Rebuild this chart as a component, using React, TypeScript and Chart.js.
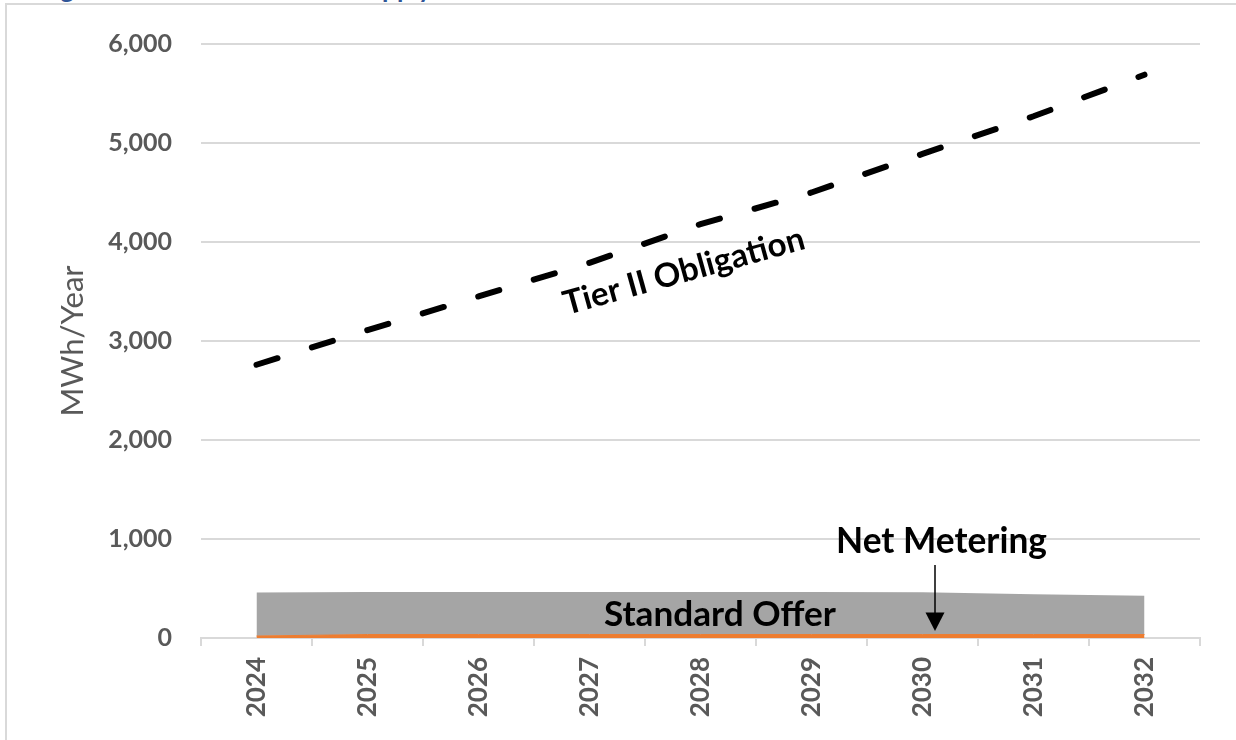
import React, { useEffect, useRef } from "react";
import { Chart, registerables } from "chart.js";

Chart.register(...registerables);

const years = ["2024", "2025", "2026", "2027", "2028", "2029", "2030", "2031", "2032"];
const tierIIObligation = [2760, 3110, 3450, 3790, 4180, 4500, 4890, 5270, 5690];
const netMetering = [20, 35, 35, 35, 35, 35, 35, 35, 35];
const standardOffer = [440, 430, 430, 430, 430, 430, 428, 408, 392];
const yTicks = [0, 1000, 2000, 3000, 4000, 5000, 6000];
const yTitle = "MWh/Year";
const captionText = "Figure 6: Tier II Demand vs Supply";

const FONT = "Lato, 'Open Sans', sans-serif";
const GRID = "#d9d9d9";
const AXIS_TEXT = "#595959";

function fitFont(ctx: CanvasRenderingContext2D, text: string, width: number, weight: string) {
  ctx.font = `${weight} 30px ${FONT}`;
  const w = ctx.measureText(text).width;
  const size = (30 * width) / w;
  ctx.font = `${weight} ${size.toFixed(2)}px ${FONT}`;
}

const annotationPlugin = {
  id: "annotations",
  afterDatasetsDraw(chart: any) {
    const ctx: CanvasRenderingContext2D = chart.ctx;
    ctx.save();
    ctx.fillStyle = "#000";
    ctx.strokeStyle = "#000";

    // Tier II Obligation label
    ctx.save();
    ctx.translate(686.7, 281.7);
    ctx.rotate((-15.5 * Math.PI) / 180);
    fitFont(ctx, "Tier II Obligation", 249, "bold");
    ctx.textAlign = "center";
    ctx.textBaseline = "alphabetic";
    ctx.fillText("Tier II Obligation", 0, 0);
    ctx.restore();

    // Standard Offer
    fitFont(ctx, "Standard Offer", 232, "bold");
    ctx.textAlign = "left";
    ctx.textBaseline = "alphabetic";
    ctx.fillText("Standard Offer", 604, 626);

    // Net Metering
    fitFont(ctx, "Net Metering", 211, "bold");
    ctx.fillText("Net Metering", 836, 553);

    // Arrow
    ctx.lineWidth = 1.5;
    ctx.beginPath();
    ctx.moveTo(935, 565);
    ctx.lineTo(935, 614);
    ctx.stroke();
    ctx.beginPath();
    ctx.moveTo(925.5, 612.5);
    ctx.lineTo(944.5, 612.5);
    ctx.lineTo(935, 631);
    ctx.closePath();
    ctx.fill();

    ctx.restore();
  },
};

export default function App() {
  const canvasRef = useRef<HTMLCanvasElement | null>(null);

  useEffect(() => {
    if (!canvasRef.current) return;
    const chart = new Chart(canvasRef.current, {
      type: "line",
      data: {
        labels: years,
        datasets: [
          {
            label: "Net Metering",
            data: netMetering,
            stack: "supply",
            fill: "origin",
            backgroundColor: "#ed7d31",
            borderColor: "#ed7d31",
            borderWidth: 1,
            pointRadius: 0,
            tension: 0,
          },
          {
            label: "Standard Offer",
            data: standardOffer,
            stack: "supply",
            fill: "-1",
            backgroundColor: "#a5a5a5",
            borderColor: "#a5a5a5",
            borderWidth: 0,
            pointRadius: 0,
            tension: 0,
          },
          {
            label: "Tier II Obligation",
            data: tierIIObligation,
            stack: "tier",
            fill: false,
            borderColor: "#000000",
            borderWidth: 6,
            borderDash: [22, 36],
            borderCapStyle: "round",
            pointRadius: 0,
            tension: 0,
          },
        ] as any,
      },
      options: {
        responsive: false,
        animation: false,
        layout: { padding: { top: 41, right: 36, bottom: 0, left: 0 } },
        plugins: {
          legend: { display: false },
          tooltip: { enabled: false },
          title: { display: false },
        },
        scales: {
          x: {
            type: "category",
            offset: true,
            grid: {
              offset: true,
              drawOnChartArea: false,
              drawTicks: true,
              tickLength: 8,
              color: GRID,
              lineWidth: 2,
            },
            border: { display: true, color: GRID, width: 2 },
            ticks: {
              minRotation: 90,
              maxRotation: 90,
              padding: 11,
              color: AXIS_TEXT,
              font: { family: FONT, weight: "bold", size: 26 },
            },
            afterFit: (s: any) => {
              s.height = 102;
            },
          } as any,
          y: {
            stacked: true,
            min: 0,
            max: 6000,
            afterBuildTicks: (s: any) => {
              s.ticks = yTicks.map((v) => ({ value: v }));
            },
            grid: { color: GRID, lineWidth: 2, drawTicks: false },
            border: { display: false },
            ticks: {
              padding: 29,
              color: AXIS_TEXT,
              font: { family: FONT, weight: "bold", size: 25 },
              callback: (v: any) => Number(v).toLocaleString("en-US"),
            },
            title: {
              display: true,
              text: yTitle,
              color: AXIS_TEXT,
              font: { family: FONT, weight: "normal", size: 31 },
              padding: { top: 54, bottom: 0 },
            },
            afterFit: (s: any) => {
              s.width = 201;
            },
          } as any,
        },
      },
      plugins: [annotationPlugin],
    });
    return () => chart.destroy();
  }, []);

  return (
    <div
      style={{
        position: "fixed",
        left: 0,
        top: 0,
        width: 1236,
        height: 740,
        background: "#fff",
        overflow: "hidden",
      }}
    >
      <div
        style={{
          position: "absolute",
          left: 39,
          top: -25,
          fontFamily: FONT,
          fontWeight: "bold",
          fontSize: 26,
          lineHeight: "26px",
          color: "#2f5597",
          whiteSpace: "nowrap",
        }}
      >
        {captionText}
      </div>
      <canvas
        ref={canvasRef}
        width={1236}
        height={740}
        style={{ position: "absolute", left: 0, top: 0, width: 1236, height: 740 }}
      />
      <div style={{ position: "absolute", left: 5, top: 3, width: 1231, height: 2, background: GRID }} />
      <div style={{ position: "absolute", left: 5, top: 3, width: 2, height: 737, background: GRID }} />
    </div>
  );
}
